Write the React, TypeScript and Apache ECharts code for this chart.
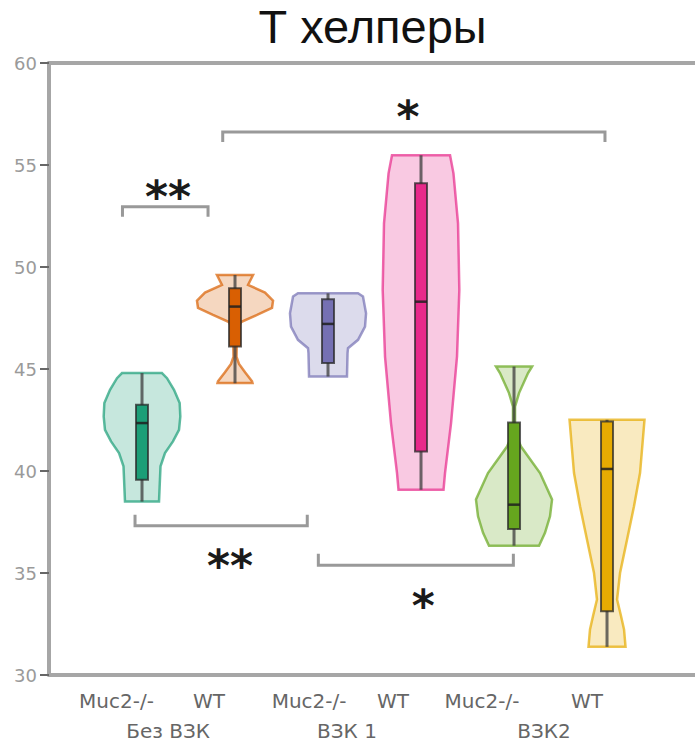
import React, { useEffect, useRef } from "react";
import * as echarts from "echarts";

// ---------- data ----------
const chartTitle = "Т хелперы";
const categories = ["Muc2-/-", "WT", "Muc2-/-", "WT", "Muc2-/-", "WT"];
const groupLabels = ["Без ВЗК", "ВЗК 1", "ВЗК2"];
const colors = ["#1b9e77", "#d95f02", "#7570b3", "#e7298a", "#66a61e", "#e6ab02"];

const yMin = 30;
const yMax = 60;
const yStep = 5;

// box-plot statistics per group
const whiskerLow = [38.5, 44.3, 44.63, 39.08, 36.34, 31.38];
const q1 = [39.57, 46.1, 45.29, 40.96, 37.16, 33.13];
const median = [42.35, 48.06, 47.21, 48.3, 38.35, 40.1];
const q3 = [43.25, 48.96, 48.42, 54.1, 42.38, 42.43];
const whiskerHigh = [44.8, 49.61, 48.71, 55.48, 45.12, 42.51];

// violin profiles: y values and half widths (in category units)
const violinY = [
  [44.8, 44.55, 43.98, 43.33, 42.67, 42.02, 41.45, 40.88, 40.23, 38.51],
  [49.61, 49.12, 48.75, 48.35, 48.0, 47.65, 47.3, 46.9, 45.6, 45.25, 44.84, 44.4, 44.31],
  [48.71, 48.55, 47.73, 47.08, 46.43, 46.02, 45.78, 44.63],
  [55.48, 54.59, 52.14, 48.87, 45.61, 42.35, 39.9, 39.08],
  [45.12, 44.8, 43.82, 43.16, 41.86, 41.2, 39.9, 38.6, 37.78, 36.97, 36.34],
  [42.51, 39.9, 38.27, 36.63, 35.0, 33.7, 32.88, 32.23, 31.38],
];
const violinHalfWidth = [
  [0.215, 0.269, 0.344, 0.405, 0.412, 0.398, 0.333, 0.247, 0.199, 0.183],
  [0.194, 0.14, 0.323, 0.409, 0.398, 0.237, 0.065, 0.022, 0.016, 0.043, 0.108, 0.183, 0.188],
  [0.323, 0.376, 0.409, 0.398, 0.323, 0.215, 0.21, 0.204],
  [0.312, 0.349, 0.398, 0.412, 0.387, 0.323, 0.258, 0.242],
  [0.194, 0.151, 0.054, 0.011, 0.011, 0.075, 0.28, 0.409, 0.387, 0.333, 0.269],
  [0.403, 0.355, 0.29, 0.215, 0.14, 0.108, 0.151, 0.183, 0.199],
];

// significance brackets (x in category units, y in axis units)
const bracketFrom = [0.79, 1.868, 0.925, 2.896];
const bracketTo = [1.71, 5.978, 2.777, 4.993];
const bracketY = [52.95, 56.62, 37.32, 35.38];
const bracketTipY = [52.46, 56.13, 37.86, 35.94];
const sigMarks = ["**", "*", "**", "*"];
const sigX = [1.28, 3.86, 1.946, 4.025];
const sigY = [53.85, 57.77, 35.77, 33.81];

// ---------- layout (not data) ----------
const X_MIN = 0;
const X_MAX = 6.946;
const labelAnchorX = [0.726, 1.72, 2.796, 3.699, 4.656, 5.785];
const groupAnchorX = [1.28, 3.204, 5.323];
const BOX_W = 12;

function withAlpha(hex: string, a: number) {
  const r = parseInt(hex.slice(1, 3), 16);
  const g = parseInt(hex.slice(3, 5), 16);
  const b = parseInt(hex.slice(5, 7), 16);
  return `rgba(${r},${g},${b},${a})`;
}

export default function App() {
  const ref = useRef<HTMLDivElement>(null);

  useEffect(() => {
    if (!ref.current) return;
    const chart = echarts.init(ref.current, undefined, { renderer: "svg" });

    const violinRender = (params: any, api: any) => {
      const i = api.value(1) as number;
      const xc = api.value(0) as number;
      const ys = violinY[i];
      const hw = violinHalfWidth[i];
      const pts: number[][] = [];
      for (let k = 0; k < ys.length; k++) pts.push(api.coord([xc + hw[k], ys[k]]));
      for (let k = ys.length - 1; k >= 0; k--) pts.push(api.coord([xc - hw[k], ys[k]]));
      const c = colors[i];
      const center = api.coord([xc, median[i]]);
      const cx = center[0];
      const pHigh = api.coord([xc, whiskerHigh[i]]);
      const pQ3 = api.coord([xc, q3[i]]);
      const pQ1 = api.coord([xc, q1[i]]);
      const pLow = api.coord([xc, whiskerLow[i]]);
      return {
        type: "group",
        children: [
          {
            type: "polygon",
            shape: { points: pts },
            style: { fill: withAlpha(c, 0.25), stroke: withAlpha(c, 0.7), lineWidth: 2.5 },
          },
          {
            type: "line",
            shape: { x1: cx, y1: pHigh[1], x2: cx, y2: pLow[1] },
            style: { stroke: "rgba(60,60,60,0.75)", lineWidth: 3 },
          },
          {
            type: "rect",
            shape: { x: cx - BOX_W / 2, y: pQ3[1], width: BOX_W, height: pQ1[1] - pQ3[1] },
            style: { fill: c, stroke: "rgba(40,40,40,0.75)", lineWidth: 2 },
          },
          {
            type: "line",
            shape: { x1: cx - BOX_W / 2, y1: center[1], x2: cx + BOX_W / 2, y2: center[1] },
            style: { stroke: "rgba(30,30,30,0.85)", lineWidth: 2.5 },
          },
        ],
      };
    };

    const bracketRender = (params: any, api: any) => {
      const i = api.value(0) as number;
      const a = api.coord([bracketFrom[i], bracketTipY[i]]);
      const b = api.coord([bracketFrom[i], bracketY[i]]);
      const c = api.coord([bracketTo[i], bracketY[i]]);
      const d = api.coord([bracketTo[i], bracketTipY[i]]);
      return {
        type: "polyline",
        shape: { points: [a, b, c, d] },
        style: { stroke: "#999999", lineWidth: 3, fill: "none" },
      };
    };

    const sigRender = (params: any, api: any) => {
      const i = api.value(0) as number;
      const p = api.coord([sigX[i], sigY[i]]);
      return {
        type: "text",
        x: p[0],
        y: p[1] + 8,
        style: {
          text: sigMarks[i],
          fill: "#1a1a1a",
          fontSize: 44,
          fontWeight: "bold",
          fontFamily: "DejaVu Sans",
          align: "center",
          verticalAlign: "middle",
        },
      };
    };

    const catLabelRender = (params: any, api: any) => {
      const i = api.value(0) as number;
      const p = api.coord([labelAnchorX[i], yMin]);
      return {
        type: "text",
        x: p[0],
        y: p[1] + 26,
        style: {
          text: categories[i],
          fill: "#666666",
          fontSize: 20,
          fontFamily: "DejaVu Sans",
          align: "center",
          verticalAlign: "middle",
        },
      };
    };

    const groupLabelRender = (params: any, api: any) => {
      const i = api.value(0) as number;
      const p = api.coord([groupAnchorX[i], yMin]);
      return {
        type: "text",
        x: p[0],
        y: p[1] + 56,
        style: {
          text: groupLabels[i],
          fill: "#666666",
          fontSize: 20,
          fontFamily: "DejaVu Sans",
          align: "center",
          verticalAlign: "middle",
        },
      };
    };

    const frameAxis = (pos: "top" | "bottom") => ({
      type: "value" as const,
      position: pos,
      min: X_MIN,
      max: X_MAX,
      axisLine: { show: true, onZero: false, lineStyle: { color: "#a6a6a6", width: 4 } },
      axisTick: { show: false },
      axisLabel: { show: false },
      splitLine: { show: false },
    });

    chart.setOption({
      animation: false,
      backgroundColor: "#ffffff",
      graphic: [
        {
          type: "text",
          x: 372.5,
          y: 3,
          style: {
            text: chartTitle,
            fill: "#111111",
            fontSize: 47,
            fontFamily: "Liberation Sans",
            align: "center",
            verticalAlign: "top",
          },
        },
      ],
      grid: { left: 49, right: 0, top: 63, bottom: 69, containLabel: false },
      xAxis: [frameAxis("bottom"), frameAxis("top")],
      yAxis: {
        type: "value",
        min: yMin,
        max: yMax,
        interval: yStep,
        axisLine: { show: true, onZero: false, lineStyle: { color: "#a6a6a6", width: 4 } },
        axisTick: { show: true, length: 9, lineStyle: { color: "#666666", width: 2 } },
        axisLabel: { color: "#9a9a9a", fontSize: 18, fontFamily: "DejaVu Sans", margin: 12 },
        splitLine: { show: false },
      },
      series: [
        {
          type: "custom",
          name: "violins",
          clip: false,
          renderItem: violinRender,
          data: categories.map((_, i) => [i + 1, i]),
          encode: { x: 0, y: -1 },
        },
        {
          type: "custom",
          name: "brackets",
          clip: false,
          renderItem: bracketRender,
          data: sigMarks.map((_, i) => [i]),
          encode: { x: -1, y: -1 },
        },
        {
          type: "custom",
          name: "significance",
          clip: false,
          renderItem: sigRender,
          data: sigMarks.map((_, i) => [i]),
          encode: { x: -1, y: -1 },
        },
        {
          type: "custom",
          name: "categoryLabels",
          clip: false,
          renderItem: catLabelRender,
          data: categories.map((_, i) => [i]),
          encode: { x: -1, y: -1 },
        },
        {
          type: "custom",
          name: "groupLabels",
          clip: false,
          renderItem: groupLabelRender,
          data: groupLabels.map((_, i) => [i]),
          encode: { x: -1, y: -1 },
        },
      ],
    });

    return () => chart.dispose();
  }, []);

  return (
    <div
      ref={ref}
      style={{ position: "absolute", left: 0, top: 0, width: 695, height: 744 }}
    />
  );
}
